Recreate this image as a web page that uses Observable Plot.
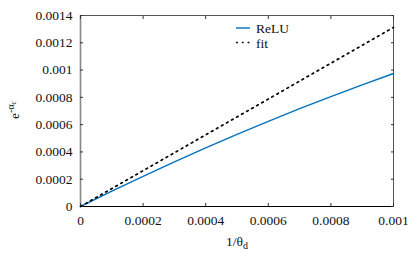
<!DOCTYPE html>
<html>
<head>
<meta charset="utf-8">
<script src="https://cdn.jsdelivr.net/npm/d3@7"></script>
<script src="https://cdn.jsdelivr.net/npm/@observablehq/plot@0.6"></script>
<style>
  html, body { margin: 0; padding: 0; background: #fff; }
  svg, svg text { font-family: "Liberation Serif", "DejaVu Serif", serif !important; }
</style>
</head>
<body>
<div id="chart"></div>
<script>
const reluX = [0, 0.0001, 0.0002, 0.0003, 0.0004, 0.0005, 0.0006, 0.0007, 0.0008, 0.0009, 0.001];
const reluY = [0, 0.000112, 0.000221, 0.000327, 0.000429, 0.000528, 0.000624, 0.000717, 0.000806, 0.000892, 0.000975];
const fitX = [0, 0.001];
const fitY = [0, 0.001313];
const xTicks = [0, 0.0002, 0.0004, 0.0006, 0.0008, 0.001];
const xTickLabels = ["0", "0.0002", "0.0004", "0.0006", "0.0008", "0.001"];
const yTicks = [0, 0.0002, 0.0004, 0.0006, 0.0008, 0.001, 0.0012, 0.0014];
const yTickLabels = ["0", "0.0002", "0.0004", "0.0006", "0.0008", "0.001", "0.0012", "0.0014"];
const seriesNames = ["ReLU", "fit"];
const seriesColors = ["#0072bd", "#000000"];

const relu = reluX.map((x, i) => ({x, y: reluY[i]}));
const fit = fitX.map((x, i) => ({x, y: fitY[i]}));
const xFmt = d => xTickLabels[xTicks.indexOf(d)];
const yFmt = d => yTickLabels[yTicks.indexOf(d)];
const FS = 13.5;

const plot = Plot.plot({
  width: 415,
  height: 265,
  marginLeft: 80,
  marginRight: 22,
  marginTop: 15,
  marginBottom: 59,
  style: {fontFamily: "'Liberation Serif', serif", fontSize: FS + "px", color: "#111"},
  x: {domain: [0, 0.001]},
  y: {domain: [0, 0.0014]},
  marks: [
    Plot.frame({stroke: "#555", strokeWidth: 1}),
    Plot.ruleX([0], {stroke: "#888", strokeWidth: 1.6}),
    Plot.ruleY([0], {stroke: "#000", strokeWidth: 1.2}),
    Plot.axisX(xTicks, {anchor: "bottom", tickSize: 0, tickPadding: 9, tickFormat: xFmt, label: null, fill: "#111", fontSize: FS}),
    Plot.axisY(yTicks, {anchor: "left", tickSize: 0, tickPadding: 8, tickFormat: yFmt, label: null, fill: "#111", fontSize: FS}),
    Plot.axisX(xTicks, {anchor: "bottom", tickSize: -3, tickFormat: () => "", label: null, stroke: "#333"}),
    Plot.axisX(xTicks, {anchor: "top", tickSize: -3, tickFormat: () => "", label: null, stroke: "#333"}),
    Plot.axisY(yTicks, {anchor: "left", tickSize: -3, tickFormat: () => "", label: null, stroke: "#333"}),
    Plot.axisY(yTicks, {anchor: "right", tickSize: -3, tickFormat: () => "", label: null, stroke: "#333"}),
    Plot.line(relu, {x: "x", y: "y", stroke: seriesColors[0], strokeWidth: 1.4}),
    Plot.line(fit, {x: "x", y: "y", stroke: seriesColors[1], strokeWidth: 1.7, strokeDasharray: "1.8,4"})
  ]
});

const svg = d3.select(plot);
// axis labels
const xl = svg.append("text")
  .attr("x", 237).attr("y", 246)
  .attr("text-anchor", "middle")
  .attr("font-size", FS).attr("fill", "#111");
xl.append("tspan").text("1/θ");
xl.append("tspan").attr("font-size", 10).attr("dy", 3).text("d");

const yl = svg.append("text")
  .attr("transform", "translate(19,110) rotate(-90)")
  .attr("text-anchor", "middle")
  .attr("font-size", FS).attr("fill", "#111");
yl.append("tspan").text("e");
yl.append("tspan").attr("font-size", 10).attr("dy", -5.5).text("-α");
yl.append("tspan").attr("font-size", 7.5).attr("dy", 2).text("c");

// legend
const lg = svg.append("g").attr("font-size", FS).attr("fill", "#111").attr("text-anchor", "start");
const legY = [28, 42.5];
seriesNames.forEach((name, i) => {
  lg.append("line")
    .attr("x1", 236).attr("x2", 250)
    .attr("y1", legY[i]).attr("y2", legY[i])
    .attr("stroke", seriesColors[i])
    .attr("stroke-width", i === 0 ? 1.4 : 1.7)
    .attr("stroke-dasharray", i === 0 ? null : "1.8,4");
  lg.append("text").attr("x", 256).attr("y", legY[i] + 5).attr("text-anchor", "start").text(name);
});

document.getElementById("chart").appendChild(plot);
</script>
</body>
</html>
